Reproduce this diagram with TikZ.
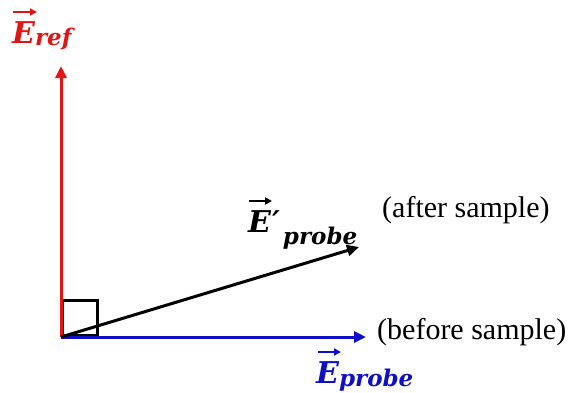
\documentclass[tikz,border=0pt]{standalone}
\usepackage{fontspec}
\setmainfont{Liberation Serif}
\newfontfamily\vecfont{DejaVu Serif}[BoldItalicFont={DejaVu Serif Bold Italic}]
\usetikzlibrary{arrows.meta}
\definecolor{refred}{RGB}{228,20,20}
\definecolor{probeblue}{RGB}{15,15,200}
\newcommand{\sub}[2]{\raisebox{-#1pt}{\fontsize{23}{23}\selectfont #2}}
\begin{document}
\begin{tikzpicture}[x=1pt,y=-1pt,
  vec/.style={line width=3pt,-{Triangle[length=12pt,width=11pt]}},
  overarr/.style={line width=1.7pt,-{Triangle[length=7pt,width=7pt]}},
  lab/.style={inner sep=0pt,anchor=base west,font=\fontsize{30}{36}\selectfont},
  vlab/.style={inner sep=0pt,anchor=base west,font=\vecfont\bfseries\itshape\fontsize{30}{36}\selectfont}]
\useasboundingbox (0,0) rectangle (572,392);
\coordinate (O) at (61,337);
\coordinate (Rtip) at (61,66);
\coordinate (Btip) at (366,337);
\coordinate (Ktip) at (359,247);
\node[draw,line width=2.8pt,minimum size=35pt,inner sep=0pt,anchor=south west] (sq) at (O) {};
\draw[vec,probeblue] (O) -- (Btip);
\draw[vec,refred] (O) -- (Rtip);
\draw[vec,black] (O) -- (Ktip);
\node[vlab,text=refred] (Eref) at (12,43) {E\sub{2}{ref}};
\node[vlab] (Eprime) at (248,232) {E\hspace{1pt}′\hspace{3pt}\sub{12}{probe}};
\node[vlab,text=probeblue] (Eprobe) at (316,383) {E\sub{3}{probe}};
\draw[overarr,refred] ([shift={(1,-31)}]Eref.base west) -- ++(24,0);
\draw[overarr,black] ([shift={(1,-31)}]Eprime.base west) -- ++(23,0);
\draw[overarr,probeblue] ([shift={(2,-31)}]Eprobe.base west) -- ++(23,0);
\node[lab] (after) at (382,217) {(after sample)};
\node[lab] (before) at (377,339) {(before sample)};
\end{tikzpicture}
\end{document}
